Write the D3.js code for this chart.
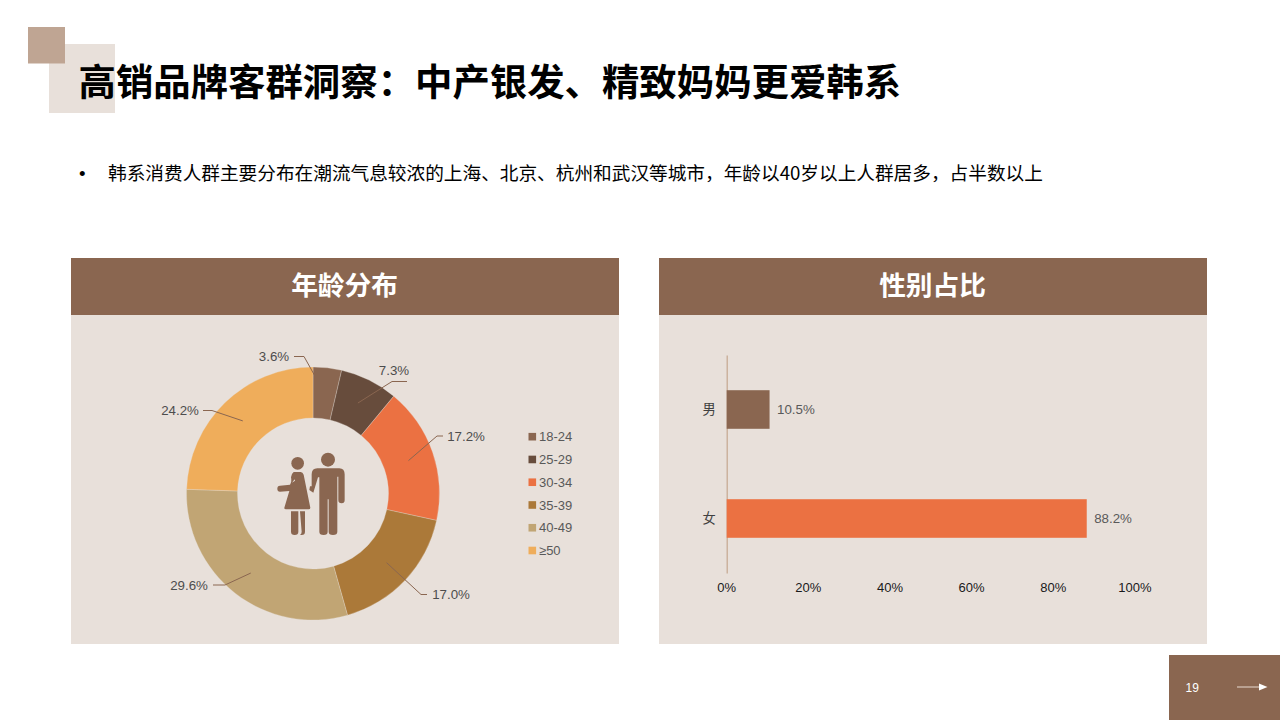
<!DOCTYPE html>
<html>
<head>
<meta charset="utf-8">
<script src="https://cdn.jsdelivr.net/npm/d3@7/dist/d3.min.js"></script>
<style>
  html, body { margin: 0; padding: 0; background: #fff; }
  svg { display: block; }
  text { font-family: "Liberation Sans", "Noto Sans CJK SC", sans-serif; }
  .cjk { font-family: "Noto Sans CJK SC", sans-serif; }
</style>
</head>
<body>
<div id="slide"></div>
<script>
// chart data
var titleText = "高销品牌客群洞察\uFF1A中产银发、精致妈妈更爱韩系";
var bulletText = "韩系消费人群主要分布在潮流气息较浓的上海、北京、杭州和武汉等城市\uFF0C年龄以40岁以上人群居多\uFF0C占半数以上";
var panelTitles = ["年龄分布", "性别占比"];

var ageGroups = ["18-24", "25-29", "30-34", "35-39", "40-49", "≥50"];
var ageShares = [3.6, 7.3, 17.2, 17.0, 29.6, 24.2];
var ageColors = ["#8a6650", "#674c3c", "#eb7142", "#ab7939", "#c1a574", "#efad5b"];

var genders = ["男", "女"];
var genderShares = [10.5, 88.2];
var genderColors = ["#8a6650", "#eb7142"];
var genderTicks = [0, 20, 40, 60, 80, 100];

var pageNumber = "19";

// leader line layout, pixels from the donut centre: elbow, end, label
var leaderLayout = [
  { elbow: [-9, -137], end: [-19, -137], label: [-39, -137], anchor: "middle" },
  { elbow: [79, -112], end: [94, -112], label: [81, -123], anchor: "middle" },
  { elbow: [124, -57.5], end: [130, -57.5], label: [153, -57], anchor: "middle" },
  { elbow: [108, 101], end: [114, 101], label: [138, 101], anchor: "middle" },
  { elbow: [-88, 91.5], end: [-100, 91.5], label: [-124, 91.5], anchor: "middle" },
  { elbow: [-101, -83], end: [-110, -83], label: [-133, -83], anchor: "middle" }
];

var svgWidth = 1280;
var svgHeight = 720;

var brown = "#8a6650";
var panelFill = "#e8e0da";

var svg = d3.select("#slide")
  .append("svg")
  .attr("width", svgWidth)
  .attr("height", svgHeight);

// corner squares behind the title
svg.append("rect").attr("x", 49).attr("y", 44).attr("width", 66).attr("height", 69).attr("fill", panelFill);
svg.append("rect").attr("x", 28).attr("y", 27).attr("width", 37).attr("height", 36.5).attr("fill", "#bfa593");

svg.append("text")
  .attr("class", "cjk")
  .attr("x", 78.5)
  .attr("y", 96)
  .attr("font-size", 37.4)
  .attr("font-weight", 700)
  .attr("fill", "#000")
  .text(titleText);

svg.append("text")
  .attr("x", 79)
  .attr("y", 180)
  .attr("font-size", 18.67)
  .attr("fill", "#000")
  .text("•");

svg.append("text")
  .attr("class", "cjk")
  .attr("x", 108)
  .attr("y", 180)
  .attr("font-size", 18.67)
  .attr("fill", "#000")
  .text(bulletText);

// panels
var panels = [71, 659];
panels.forEach(function(x, i) {
  svg.append("rect").attr("x", x).attr("y", 258).attr("width", 548).attr("height", 386).attr("fill", panelFill);
  svg.append("rect").attr("x", x).attr("y", 258).attr("width", 548).attr("height", 57).attr("fill", brown);
  svg.append("text")
    .attr("class", "cjk")
    .attr("x", x + 273.5)
    .attr("y", 295)
    .attr("text-anchor", "middle")
    .attr("font-size", 26.7)
    .attr("font-weight", 700)
    .attr("fill", "#fff")
    .text(panelTitles[i]);
});

// donut
var cx = 313;
var cy = 493.5;
var outerRadius = 126.5;
var innerRadius = 75.5;

var donut = svg.append("g").attr("transform", `translate(${cx}, ${cy})`);

var pie = d3.pie().sort(null);
var arc = d3.arc().innerRadius(innerRadius).outerRadius(outerRadius);
var slices = pie(ageShares);

donut.selectAll("path.slice")
  .data(slices)
  .enter()
  .append("path")
  .attr("class", "slice")
  .attr("d", arc)
  .attr("fill", (d, i) => ageColors[i])
  .attr("stroke", panelFill)
  .attr("stroke-width", 0.3);

// leader lines start at the middle of each slice
donut.selectAll("path.leader")
  .data(slices)
  .enter()
  .append("path")
  .attr("class", "leader")
  .attr("d", function(d, i) {
    return d3.line()([arc.centroid(d), leaderLayout[i].elbow, leaderLayout[i].end]);
  })
  .attr("fill", "none")
  .attr("stroke", brown)
  .attr("stroke-width", 1);

donut.selectAll("text.share")
  .data(slices)
  .enter()
  .append("text")
  .attr("class", "share")
  .attr("x", (d, i) => leaderLayout[i].label[0])
  .attr("y", (d, i) => leaderLayout[i].label[1])
  .attr("dy", "0.36em")
  .attr("text-anchor", (d, i) => leaderLayout[i].anchor)
  .attr("font-size", 13.3)
  .attr("fill", "#4d4d4d")
  .text(d => d.value.toFixed(1) + "%");

// couple icon in the donut hole, drawn on a 3x grid
var icon = svg.append("g")
  .attr("transform", "translate(260, 440) scale(0.3333)")
  .attr("fill", brown);

icon.append("circle").attr("cx", 113).attr("cy", 70).attr("r", 19);
icon.append("circle").attr("cx", 204).attr("cy", 59).attr("r", 21);
icon.append("path").attr("d", "M101 96 L122 96 Q128 96 131 104 L151 203 Q151 208 146 208 L78 208 Q72 208 73 203 L88 153 L60 155 Q52 155 52 146 Q52 137 60 137 L90 134 Q96 126 93 112 Q95 100 101 96 Z");
icon.append("path").attr("d", "M104 118 L96 128 L105 122 Z").attr("fill", panelFill);
icon.append("path").attr("d", "M93 214 H115 V275 Q115 285 104 285 Q93 285 93 275 Z");
icon.append("path").attr("d", "M120 214 H135 V275 Q135 285 125 285 H120 Q125 282 125 275 Z");
icon.append("path").attr("d", "M172 85 H238 Q254 85 254 103 V180 Q254 190 245 190 Q235 190 235 180 V110 L232 110 V275 Q232 285 219 285 Q206 285 206 275 V178 H203 V275 Q203 285 191 285 Q178 285 178 275 V112 L174 112 L160 158 L148 150 L150 139 L155 139 L155 103 Q155 85 172 85 Z");

// legend
var legendY = d3.scalePoint().domain(ageGroups).range([436.7, 550.5]);

var legend = svg.selectAll("g.legend")
  .data(ageGroups)
  .enter()
  .append("g")
  .attr("class", "legend")
  .attr("transform", d => `translate(528.5, ${legendY(d)})`);

legend.append("rect")
  .attr("y", -3.8)
  .attr("width", 7.6)
  .attr("height", 7.6)
  .attr("fill", (d, i) => ageColors[i]);

legend.append("text")
  .attr("x", 10.5)
  .attr("dy", "0.36em")
  .attr("font-size", 13)
  .attr("fill", "#595959")
  .text(d => d);

// gender bars
var xScale = d3.scaleLinear().domain([0, 100]).range([726.7, 1134.9]);
var yScale = d3.scaleBand().domain(genders).range([355, 573]).paddingInner(0.646).paddingOuter(0.323);

var bottomAxis = d3.axisBottom(xScale)
  .tickValues(genderTicks)
  .tickSize(0)
  .tickPadding(0)
  .tickFormat(d => d + "%");

var xAxisGroup = svg.append("g")
  .attr("transform", "translate(-0.5, 583)")
  .call(bottomAxis);
xAxisGroup.select(".domain").remove();
xAxisGroup.selectAll("text")
  .attr("font-family", "Liberation Sans")
  .attr("font-size", 13)
  .attr("fill", "#1a1a1a");

var leftAxis = d3.axisLeft(yScale).tickSize(0).tickPadding(11);

var yAxisGroup = svg.append("g")
  .attr("transform", "translate(726.7, 0)")
  .call(leftAxis);
yAxisGroup.select(".domain")
  .attr("stroke", "#c4a78f")
  .attr("stroke-width", 1.2);
yAxisGroup.selectAll("text")
  .attr("font-family", "Noto Sans CJK SC")
  .attr("font-size", 13.3)
  .attr("fill", "#404040");

svg.selectAll("rect.bar")
  .data(genders)
  .enter()
  .append("rect")
  .attr("class", "bar")
  .attr("x", xScale(0))
  .attr("y", d => yScale(d))
  .attr("width", (d, i) => xScale(genderShares[i]) - xScale(0))
  .attr("height", yScale.bandwidth())
  .attr("fill", (d, i) => genderColors[i]);

svg.selectAll("text.barLabel")
  .data(genders)
  .enter()
  .append("text")
  .attr("class", "barLabel")
  .attr("x", (d, i) => xScale(genderShares[i]) + 7.5)
  .attr("y", d => yScale(d) + yScale.bandwidth() / 2)
  .attr("dy", "0.36em")
  .attr("font-size", 13.3)
  .attr("fill", "#595959")
  .text((d, i) => genderShares[i].toFixed(1) + "%");

// page number block
svg.append("rect").attr("x", 1169).attr("y", 655).attr("width", 111).attr("height", 65).attr("fill", brown);
svg.append("text")
  .attr("x", 1185.5)
  .attr("y", 691.5)
  .attr("font-size", 12)
  .attr("fill", "#fff")
  .text(pageNumber);
svg.append("line")
  .attr("x1", 1237).attr("y1", 687).attr("x2", 1260).attr("y2", 687)
  .attr("stroke", "#d9c8bc")
  .attr("stroke-width", 1.2);
svg.append("path").attr("d", "M1259 683.5 L1267.5 687 L1259 690.5 Z").attr("fill", "#fff");
</script>
</body>
</html>
